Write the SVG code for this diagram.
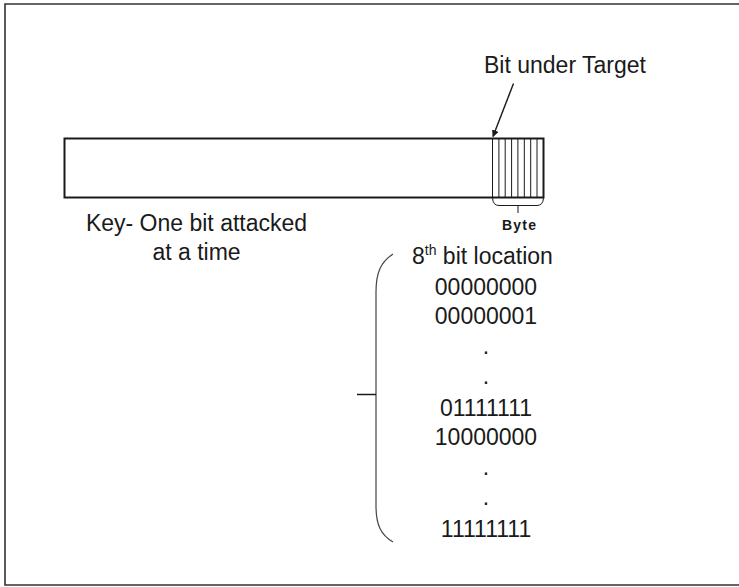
<svg xmlns="http://www.w3.org/2000/svg" width="739" height="587" viewBox="0 0 739 587">
  <style>
    .t { font-family: "Liberation Sans", Arial, sans-serif; font-size: 23px; fill: #1a1a1a; }
    .m { text-anchor: middle; }
    .b { font-weight: bold; font-size: 14px; }
    .thick { fill: none; stroke: #1a1a1a; stroke-width: 2; }
    .thin { fill: none; stroke: #1a1a1a; stroke-width: 1; }
    .brace { fill: none; stroke: #444; stroke-width: 1.2; }
  </style>
  <defs>
    <marker id="ah" viewBox="0 0 10 10" refX="9" refY="5" markerWidth="7" markerHeight="7" markerUnits="userSpaceOnUse" orient="auto">
      <path d="M0,0 L10,5 L0,10 z" fill="#1a1a1a"/>
    </marker>
  </defs>
  <rect width="739" height="587" fill="#fff"/>
  <path d="M739 4 H5 V585 H739" fill="none" stroke="#333" stroke-width="1.6"/>

  <g id="key">
    <rect class="thick" x="64.5" y="138.5" width="479" height="59"/>
    <text class="t m" x="196.5" y="231">Key- One bit attacked</text>
    <text class="t m" x="196.5" y="260">at a time</text>
  </g>

  <g id="byte">
    <path class="thin" d="M492.5 138.5 V197.5 M498.9 138.5 V197.5 M505.2 138.5 V197.5 M511.6 138.5 V197.5 M517.9 138.5 V197.5 M524.3 138.5 V197.5 M530.7 138.5 V197.5 M537.0 138.5 V197.5"/>
    <path class="thin" d="M492.5 198 Q493 205.5 499 205.5 H537 Q543 205.5 543.5 198 M518 205.5 V213"/>
    <text class="t m b" x="519" y="229.5" textLength="34" lengthAdjust="spacing">Byte</text>
  </g>

  <g id="target">
    <text class="t m" x="565" y="73">Bit under Target</text>
  </g>

  <g id="locations">
    <text class="t" x="412" y="264">8<tspan font-size="14" dy="-9">th</tspan><tspan dy="9"> bit location</tspan></text>
    <text class="t m" x="486" y="294.5">00000000</text>
    <text class="t m" x="486" y="323.5">00000001</text>
    <text class="t m" x="486" y="353.5">.</text>
    <text class="t m" x="486" y="383.5">.</text>
    <text class="t m" x="486" y="416">01111111</text>
    <text class="t m" x="486" y="445">10000000</text>
    <text class="t m" x="486" y="475">.</text>
    <text class="t m" x="486" y="505">.</text>
    <text class="t m" x="486" y="537">11111111</text>
  </g>

  <g id="bracket">
    <path class="brace" d="M393 254 C381 262 376 272 376 292 V506 C376 525 381 535 393 542"/>
    <path d="M357 394.5 H376" stroke="#1a1a1a" stroke-width="1.5"/>
  </g>

  <g id="connectors">
    <path d="M513.5 83.5 L493 136.5" stroke="#1a1a1a" stroke-width="1.4" fill="none" marker-end="url(#ah)"/>
  </g>
</svg>
